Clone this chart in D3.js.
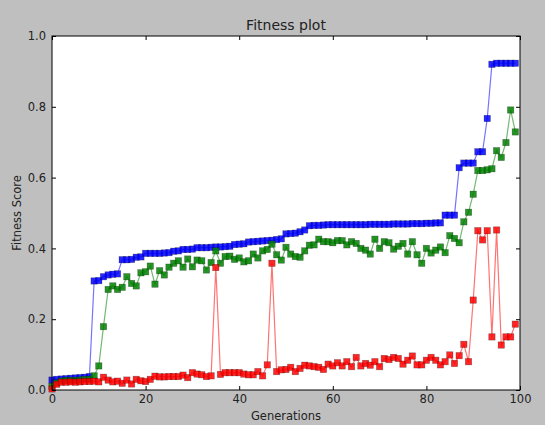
<!DOCTYPE html>
<html>
<head>
<meta charset="utf-8">
<script src="https://cdn.jsdelivr.net/npm/d3@7/dist/d3.min.js"></script>
<style>
  body { margin: 0; background: #bfbfbf; }
  svg { display: block; font-family: "DejaVu Sans", sans-serif; }
</style>
</head>
<body>
<svg width="545" height="425"></svg>
<script>
// generations 0..99
var generations = d3.range(0, 100);

var xTicks = [0, 20, 40, 60, 80, 100];
var yTicks = [0, 0.2, 0.4, 0.6, 0.8, 1.0];

// best fitness
var bestScore = [
  0.028, 0.030, 0.031, 0.032, 0.033, 0.034, 0.035, 0.036, 0.038, 0.308,
  0.309, 0.320, 0.325, 0.327, 0.328, 0.368, 0.368, 0.369, 0.375, 0.376,
  0.386, 0.386, 0.386, 0.386, 0.387, 0.388, 0.392, 0.393, 0.397, 0.397,
  0.398, 0.402, 0.402, 0.402, 0.403, 0.404, 0.404, 0.405, 0.406, 0.411,
  0.412, 0.413, 0.418, 0.419, 0.420, 0.421, 0.422, 0.423, 0.425, 0.427,
  0.441, 0.442, 0.443, 0.447, 0.452, 0.464, 0.465, 0.465, 0.466, 0.467,
  0.467, 0.467, 0.467, 0.467, 0.467, 0.467, 0.467, 0.467, 0.468, 0.468,
  0.468, 0.468, 0.468, 0.469, 0.469, 0.469, 0.469, 0.470, 0.470, 0.470,
  0.471, 0.471, 0.472, 0.472, 0.494, 0.494, 0.494, 0.628, 0.641, 0.641,
  0.641, 0.673, 0.673, 0.767, 0.920, 0.923, 0.923, 0.923, 0.923, 0.923
];

// mean fitness
var meanScore = [
  0.010, 0.020, 0.025, 0.027, 0.027, 0.027, 0.028, 0.030, 0.030, 0.040,
  0.068, 0.179, 0.284, 0.294, 0.284, 0.290, 0.320, 0.301, 0.294, 0.331,
  0.334, 0.350, 0.299, 0.337, 0.325, 0.347, 0.358, 0.365, 0.347, 0.370,
  0.348, 0.367, 0.365, 0.339, 0.360, 0.393, 0.358, 0.377, 0.378, 0.369,
  0.373, 0.362, 0.365, 0.384, 0.373, 0.393, 0.397, 0.412, 0.382, 0.367,
  0.403, 0.384, 0.377, 0.375, 0.393, 0.409, 0.410, 0.426, 0.419, 0.419,
  0.416, 0.422, 0.422, 0.410, 0.419, 0.414, 0.400, 0.395, 0.384, 0.426,
  0.400, 0.419, 0.416, 0.398, 0.406, 0.414, 0.384, 0.419, 0.382, 0.358,
  0.400, 0.387, 0.395, 0.404, 0.388, 0.436, 0.428, 0.416, 0.475, 0.502,
  0.553, 0.620, 0.620, 0.622, 0.625, 0.676, 0.657, 0.699, 0.791, 0.729
];

// worst fitness
var worstScore = [
  0.003, 0.016, 0.022, 0.022, 0.023, 0.022, 0.023, 0.024, 0.024, 0.025,
  0.023, 0.036, 0.028, 0.023, 0.025, 0.019, 0.028, 0.017, 0.030, 0.026,
  0.024, 0.030, 0.039, 0.037, 0.037, 0.038, 0.038, 0.038, 0.042, 0.035,
  0.049, 0.045, 0.043, 0.038, 0.040, 0.346, 0.044, 0.049, 0.049, 0.049,
  0.049, 0.045, 0.043, 0.043, 0.052, 0.040, 0.071, 0.358, 0.052, 0.057,
  0.058, 0.064, 0.052, 0.061, 0.070, 0.068, 0.066, 0.064, 0.058, 0.073,
  0.068, 0.077, 0.068, 0.080, 0.066, 0.092, 0.068, 0.075, 0.070, 0.080,
  0.066, 0.089, 0.086, 0.092, 0.089, 0.073, 0.084, 0.096, 0.071, 0.071,
  0.084, 0.092, 0.084, 0.071, 0.080, 0.099, 0.075, 0.097, 0.129, 0.080,
  0.254, 0.450, 0.424, 0.450, 0.150, 0.452, 0.127, 0.150, 0.150, 0.186
];

var series = [
  { name: "best", values: bestScore, color: "#0000ff" },
  { name: "mean", values: meanScore, color: "#008000" },
  { name: "worst", values: worstScore, color: "#ff0000" }
];

var svg = d3.select("svg");
var plotLeft = 52, plotRight = 520, plotTop = 36, plotBottom = 390;

var x = d3.scaleLinear().domain([0, 100]).range([plotLeft, plotRight]);
var y = d3.scaleLinear().domain([0, 1]).range([plotBottom, plotTop]);

svg.append("rect")
    .attr("x", plotLeft).attr("y", plotTop)
    .attr("width", plotRight - plotLeft).attr("height", plotBottom - plotTop)
    .attr("fill", "#ffffff");

var g = svg.append("g");

var line = d3.line()
    .x(function (d, i) { return x(generations[i]); })
    .y(function (d) { return y(d); });

series.forEach(function (s) {
    var sg = g.append("g").attr("class", "series-" + s.name);
    sg.append("path")
        .datum(s.values)
        .attr("d", line)
        .attr("fill", "none")
        .attr("stroke", s.color)
        .attr("stroke-opacity", 0.55)
        .attr("stroke-width", 1.2);
    sg.selectAll("rect")
        .data(s.values)
        .enter().append("rect")
        .attr("x", function (d, i) { return x(generations[i]) - 3.2; })
        .attr("y", function (d) { return y(d) - 3.2; })
        .attr("width", 6.4)
        .attr("height", 6.4)
        .attr("fill", s.color)
        .attr("fill-opacity", 0.85)
        .attr("stroke", "#000")
        .attr("stroke-opacity", 0.35)
        .attr("stroke-width", 0.6);
});

// axes, ticks pointing inward
function styleAxis(sel) {
    sel.select(".domain").remove();
    sel.selectAll(".tick line").attr("stroke", "#000");
    sel.selectAll(".tick text")
        .attr("fill", "#222")
        .style("font-size", "11.5px")
        .style("font-family", "DejaVu Sans, sans-serif");
}

svg.append("g")
    .attr("transform", "translate(0," + plotBottom + ")")
    .call(d3.axisBottom(x).tickValues(xTicks).tickFormat(d3.format("d"))
        .tickSizeInner(-4).tickSizeOuter(0).tickPadding(5))
    .call(styleAxis);

svg.append("g")
    .attr("transform", "translate(0," + plotTop + ")")
    .call(d3.axisTop(x).tickValues(xTicks).tickFormat("")
        .tickSizeInner(-4).tickSizeOuter(0))
    .call(styleAxis);

svg.append("g")
    .attr("transform", "translate(" + plotLeft + ",0)")
    .call(d3.axisLeft(y).tickValues(yTicks).tickFormat(d3.format(".1f"))
        .tickSizeInner(-4).tickSizeOuter(0).tickPadding(6))
    .call(styleAxis);

svg.append("g")
    .attr("transform", "translate(" + plotRight + ",0)")
    .call(d3.axisRight(y).tickValues(yTicks).tickFormat("")
        .tickSizeInner(-4).tickSizeOuter(0))
    .call(styleAxis);

svg.append("rect")
    .attr("x", plotLeft).attr("y", plotTop)
    .attr("width", plotRight - plotLeft).attr("height", plotBottom - plotTop)
    .attr("fill", "none")
    .attr("stroke", "#000")
    .attr("stroke-width", 1);

svg.append("text")
    .attr("x", (plotLeft + plotRight) / 2)
    .attr("y", 30)
    .attr("text-anchor", "middle")
    .attr("fill", "#222")
    .style("font-size", "14px")
    .text("Fitness plot");

svg.append("text")
    .attr("x", (plotLeft + plotRight) / 2)
    .attr("y", 420)
    .attr("text-anchor", "middle")
    .attr("fill", "#222")
    .style("font-size", "11.5px")
    .text("Generations");

svg.append("text")
    .attr("transform", "translate(21," + ((plotTop + plotBottom) / 2) + ") rotate(-90)")
    .attr("text-anchor", "middle")
    .attr("fill", "#222")
    .style("font-size", "11.5px")
    .text("Fitness Score");
</script>
</body>
</html>
